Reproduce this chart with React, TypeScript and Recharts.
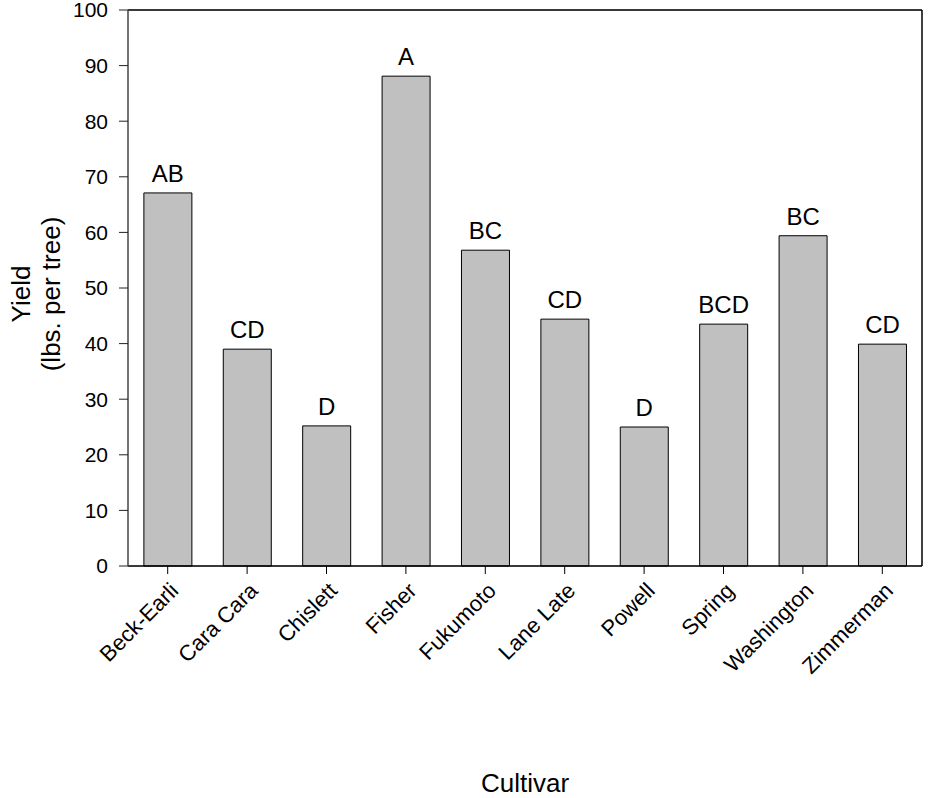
import React from 'react';
import { BarChart, Bar, XAxis, YAxis, CartesianGrid, LabelList, Label, ReferenceLine } from 'recharts';

const cultivars = ['Beck-Earli', 'Cara Cara', 'Chislett', 'Fisher', 'Fukumoto', 'Lane Late', 'Powell', 'Spring', 'Washington', 'Zimmerman'];
const yields = [67.1, 39.0, 25.2, 88.1, 56.8, 44.4, 25.0, 43.5, 59.4, 39.9];
const letters = ['AB', 'CD', 'D', 'A', 'BC', 'CD', 'D', 'BCD', 'BC', 'CD'];
const yTicks = [0, 10, 20, 30, 40, 50, 60, 70, 80, 90, 100];

const data = cultivars.map((name, i) => ({ name, yield: yields[i], letter: letters[i] }));

const FONT = 'Liberation Sans, Arial, sans-serif';

const CultivarTick = (props: any) => {
  const { x, y, payload } = props;
  return (
    <g transform={`translate(${x + 12},${y + 16})`}>
      <text textAnchor="end" transform="rotate(-45)" fontSize={22} fontFamily={FONT} fill="#000">
        {payload.value}
      </text>
    </g>
  );
};

const YieldLabel = () => (
  <g fontFamily={FONT} fontSize={26} fill="#000">
    <text transform="translate(30,294) rotate(-90)" textAnchor="middle">Yield</text>
    <text transform="translate(60,294) rotate(-90)" textAnchor="middle">(lbs. per tree)</text>
  </g>
);

const CultivarLabel = () => (
  <text x={525} y={792} textAnchor="middle" fontFamily={FONT} fontSize={26} fill="#000">Cultivar</text>
);

const App: React.FC = () => {
  return (
    <div style={{ position: 'absolute', left: 0, top: 0, background: '#fff' }}>
      <BarChart width={930} height={798} data={data} margin={{ top: 10, right: 0, left: 0, bottom: 0 }} barCategoryGap="20%">
        <CartesianGrid vertical={false} stroke="#c8c8c8" strokeWidth={1.2} />
        <XAxis
          dataKey="name"
          height={232}
          interval={0}
          tickSize={8}
          axisLine={{ stroke: '#000', strokeWidth: 1.5 }}
          tickLine={{ stroke: '#000' }}
          tick={<CultivarTick />}
        >
          <Label content={<CultivarLabel />} />
        </XAxis>
        <YAxis
          yAxisId="left"
          width={128}
          domain={[0, 100]}
          ticks={yTicks}
          interval={0}
          tickSize={9}
          tickMargin={11}
          axisLine={{ stroke: '#444', strokeWidth: 1.5 }}
          tickLine={{ stroke: '#222' }}
          tick={{ fontSize: 21, fontFamily: FONT, fill: '#000' }}
        >
          <Label content={<YieldLabel />} />
        </YAxis>
        <YAxis
          yAxisId="right"
          orientation="right"
          width={8}
          domain={[0, 100]}
          ticks={yTicks}
          interval={0}
          tickSize={8}
          tick={false}
          axisLine={{ stroke: '#000', strokeWidth: 1.5 }}
          tickLine={{ stroke: '#000' }}
        />
        <ReferenceLine yAxisId="left" y={100} stroke="#000" strokeWidth={1.5} />
        <Bar yAxisId="left" dataKey="yield" fill="#c0c0c0" stroke="#000" strokeWidth={1} isAnimationActive={false}>
          <LabelList dataKey="letter" position="top" offset={11} fontSize={24} fontFamily={FONT} fill="#000" />
        </Bar>
      </BarChart>
    </div>
  );
};

export default App;
